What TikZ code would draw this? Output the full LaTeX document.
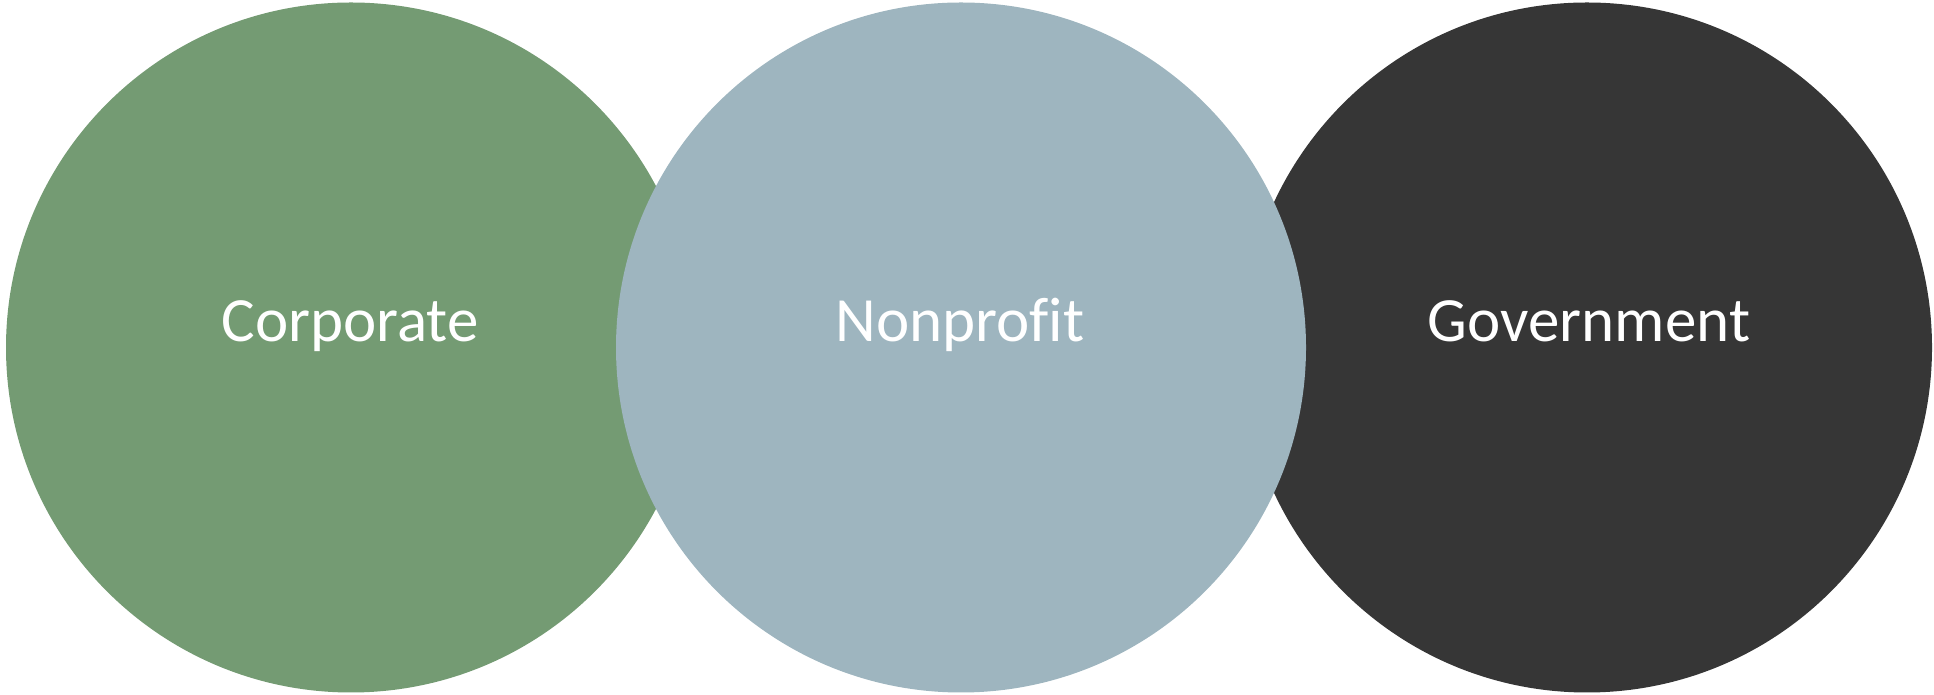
\documentclass[tikz,border=0pt]{standalone}
\usepackage{fontspec}
\setmainfont[Ligatures={NoCommon}]{Carlito}
\definecolor{corpgreen}{HTML}{749B73}
\definecolor{nonblue}{HTML}{9EB5BF}
\definecolor{govdark}{HTML}{363636}
\begin{document}
\begin{tikzpicture}[x=1pt,y=1pt,
  disc/.style={circle,minimum size=690pt,inner sep=0pt,draw=none},
  lbl/.style={text=white,anchor=base,inner sep=0pt,font=\fontsize{63}{70}\selectfont}]
\useasboundingbox (0,0) rectangle (1934,695);
\node[disc,fill=corpgreen] (corp) at (351,347.5) {};
\node[disc,fill=govdark] (gov) at (1587,347.5) {};
\node[disc,fill=nonblue] (non) at (961,347.5) {};
\node[lbl] (corpt) at (350,353) {Corporate};
\node[lbl] (nont) at (960,353) {Nonprof{}it};
\node[lbl] (govt) at (1589,353) {Government};
\end{tikzpicture}
\end{document}
